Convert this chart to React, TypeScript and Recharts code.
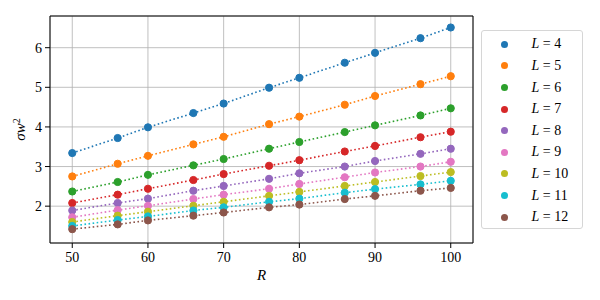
import { LineChart, Line, XAxis, YAxis, CartesianGrid, Legend, ReferenceLine } from "recharts";

const R = [50, 56, 60, 66, 70, 76, 80, 86, 90, 96, 100];
const L_VALUES = [4, 5, 6, 7, 8, 9, 10, 11, 12];

const L4 = [3.34, 3.72, 3.99, 4.35, 4.59, 4.99, 5.24, 5.62, 5.87, 6.24, 6.51];
const L5 = [2.75, 3.07, 3.27, 3.56, 3.75, 4.07, 4.26, 4.56, 4.78, 5.08, 5.28];
const L6 = [2.37, 2.61, 2.79, 3.03, 3.19, 3.45, 3.62, 3.87, 4.04, 4.29, 4.47];
const L7 = [2.08, 2.29, 2.44, 2.66, 2.81, 3.02, 3.16, 3.38, 3.52, 3.74, 3.88];
const L8 = [1.89, 2.08, 2.19, 2.39, 2.51, 2.69, 2.83, 3.0, 3.14, 3.32, 3.45];
const L9 = [1.72, 1.9, 2.01, 2.18, 2.29, 2.44, 2.56, 2.73, 2.85, 3.0, 3.12];
const L10 = [1.6, 1.76, 1.86, 2.01, 2.11, 2.26, 2.36, 2.51, 2.61, 2.76, 2.86];
const L11 = [1.5, 1.65, 1.74, 1.89, 1.97, 2.11, 2.19, 2.34, 2.43, 2.55, 2.64];
const L12 = [1.42, 1.54, 1.64, 1.76, 1.84, 1.97, 2.04, 2.18, 2.26, 2.39, 2.46];

const SERIES = [L4, L5, L6, L7, L8, L9, L10, L11, L12];
const COLORS = ["#1f77b4", "#ff7f0e", "#2ca02c", "#d62728", "#9467bd", "#e377c2", "#bcbd22", "#17becf", "#8c564b"];

const X_TICKS = [50, 60, 70, 80, 90, 100];
const Y_TICKS = [2, 3, 4, 5, 6];
const X_DOMAIN = [47.06, 102.94];
const Y_DOMAIN = [1.07, 6.8];

const FONT = "'Liberation Serif', 'DejaVu Serif', serif";

const rows = R.map((r, i) => {
  const row: Record<string, number> = { R: r };
  L_VALUES.forEach((l, k) => {
    row[`L${l}`] = SERIES[k][i];
  });
  return row;
});

// keep legend in series order (L=4 .. L=12), not alphabetical
const orderOf = (p: any) => L_VALUES.indexOf(Number(String(p.dataKey).slice(1)));

const LegendBox = ({ payload }: any) => {
  const items = [...(payload || [])].sort((a, b) => orderOf(a) - orderOf(b));
  return (
    <div
      style={{
        width: 102,
        height: 199,
        boxSizing: "border-box",
        border: "1px solid #d6d6d6",
        borderRadius: 3,
        background: "rgba(255,255,255,0.8)",
        position: "relative",
        fontFamily: FONT,
        fontSize: 14,
      }}
    >
      {items.map((p: any, i: number) => (
        <div
          key={i}
          style={{ position: "absolute", left: 0, top: 13.3 + i * 21.6 - 9, height: 18, display: "flex", alignItems: "center" }}
        >
          <span
            style={{ display: "inline-block", width: 7, height: 7, borderRadius: "50%", background: p.color, marginLeft: 18.5, marginRight: 24 }}
          />
          <span>
            <i>L</i> = {String(p.value).replace("L = ", "")}
          </span>
        </div>
      ))}
    </div>
  );
};

export default function App() {
  return (
    <div style={{ position: "absolute", left: 0, top: 0, width: 600, height: 300, background: "#fff" }}>
      <LineChart width={600} height={300} data={rows} margin={{ top: 16, right: 127, bottom: 0, left: 0 }}>
        <CartesianGrid stroke="#b0b0b0" strokeWidth={0.8} />
        <XAxis
          dataKey="R"
          type="number"
          domain={X_DOMAIN}
          ticks={X_TICKS}
          allowDataOverflow
          height={57}
          stroke="#000"
          tickSize={5}
          tickMargin={4}
          tick={{ fill: "#000", fontFamily: FONT, fontSize: 14 }}
          label={({ viewBox }: any) => (
            <text
              x={viewBox.x + viewBox.width / 2}
              y={280}
              textAnchor="middle"
              fontFamily={FONT}
              fontSize={15}
              fontStyle="italic"
              fill="#000"
            >
              R
            </text>
          )}
        />
        <YAxis
          type="number"
          domain={Y_DOMAIN}
          ticks={Y_TICKS}
          allowDataOverflow
          width={50}
          stroke="#000"
          tickSize={5}
          tickMargin={3}
          tick={{ fill: "#000", fontFamily: FONT, fontSize: 14 }}
          label={({ viewBox }: any) => (
            <text
              x={25}
              y={viewBox.y + viewBox.height / 2}
              transform={`rotate(-90, 25, ${viewBox.y + viewBox.height / 2})`}
              textAnchor="middle"
              fontFamily={FONT}
              fontSize={15}
              fill="#000"
            >
              <tspan fontStyle="italic">σw</tspan>
              <tspan dy={-5} fontSize={10}>2</tspan>
            </text>
          )}
        />
        <ReferenceLine x={X_DOMAIN[1]} stroke="#000" strokeWidth={1} />
        <ReferenceLine y={Y_DOMAIN[1]} stroke="#000" strokeWidth={1} />
        {L_VALUES.map((l, k) => (
          <Line
            key={l}
            type="linear"
            dataKey={`L${l}`}
            name={`L = ${l}`}
            stroke={COLORS[k]}
            strokeWidth={1.6}
            strokeDasharray="1.6 2.5"
            dot={{ r: 3.6, fill: COLORS[k], stroke: COLORS[k], strokeWidth: 1, strokeDasharray: "" }}
            activeDot={false}
            isAnimationActive={false}
          />
        ))}
        <Legend
          layout="vertical"
          align="center"
          verticalAlign="middle"
          itemSorter={null}
          content={<LegendBox />}
          wrapperStyle={{ position: "absolute", left: 481, top: 30, width: 102, height: 199 }}
        />
      </LineChart>
    </div>
  );
}
